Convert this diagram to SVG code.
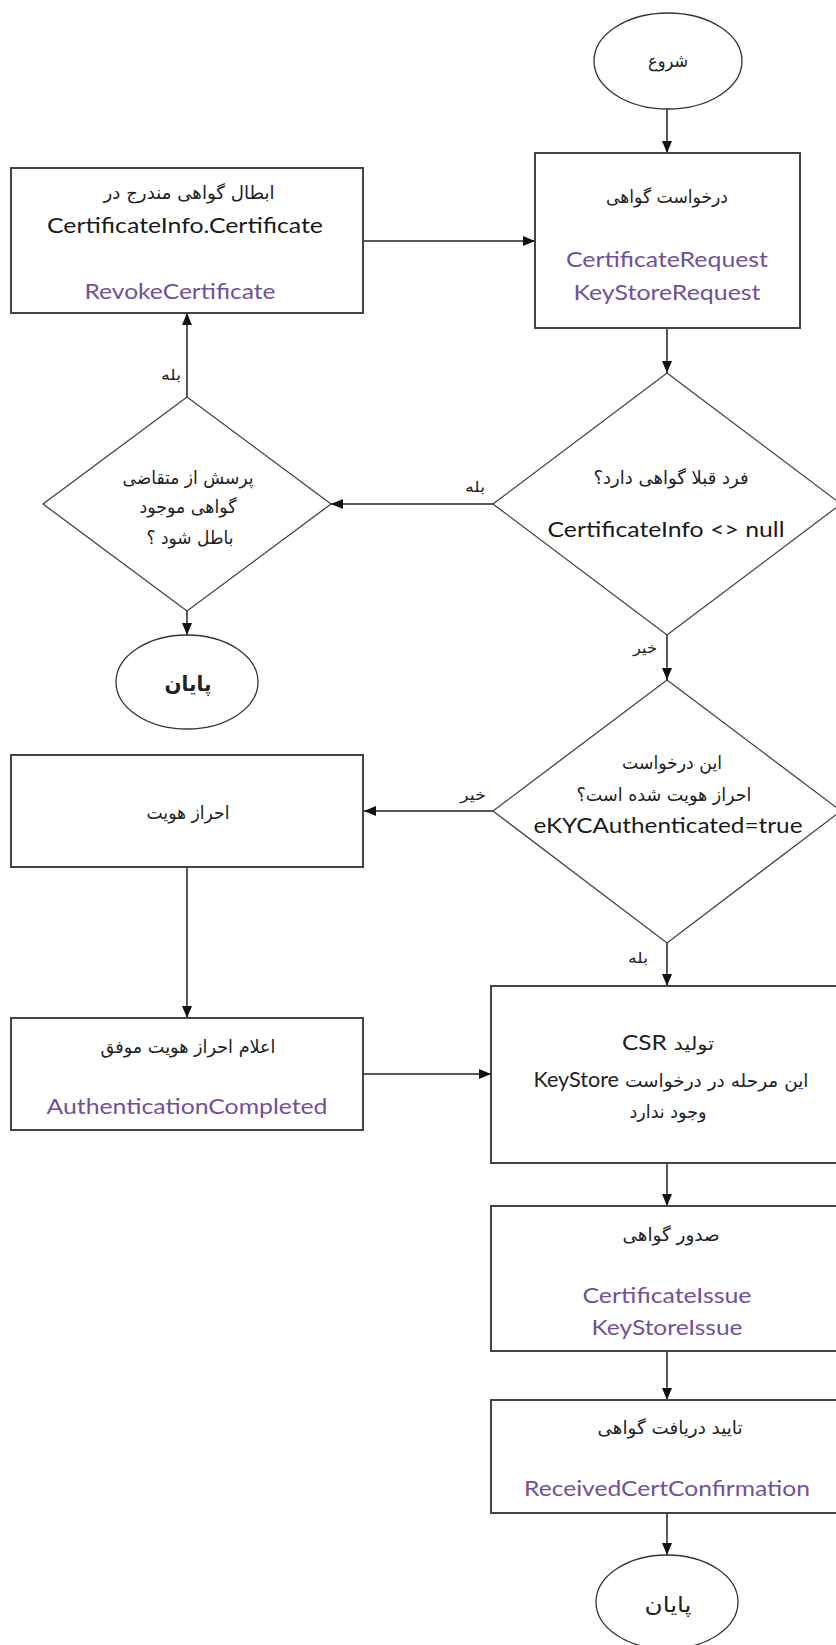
<svg xmlns="http://www.w3.org/2000/svg" width="836" height="1645" viewBox="0 0 836 1645">
<defs>
<marker id="arr" markerUnits="userSpaceOnUse" markerWidth="12" markerHeight="10" refX="12" refY="5" orient="auto">
<path d="M0,0 L12,5 L0,10 z" fill="#111"/>
</marker>
<style>
.box{fill:#fff;stroke:#444;stroke-width:2}
.dia{fill:#fff;stroke:#444;stroke-width:1.3}
.ell{fill:#fff;stroke:#333;stroke-width:1.3}
.fa{font-family:"DejaVu Sans",sans-serif;font-size:18px;fill:#222;text-anchor:middle;direction:rtl}
.lat{font-family:Lato,"DejaVu Sans",sans-serif;font-size:21px;fill:#1a1a1a;text-anchor:middle}
.pur{font-family:Lato,"DejaVu Sans",sans-serif;font-size:21px;fill:#71509c;text-anchor:middle}
.lbl{font-family:"DejaVu Sans",sans-serif;font-size:15px;fill:#222;text-anchor:middle;direction:rtl}
.con{fill:none;stroke:#222;stroke-width:1.5;marker-end:url(#arr)}
</style>
</defs>
<rect width="836" height="1645" fill="#fff"/>

<g id="connectors">
<line class="con" x1="667" y1="109" x2="667" y2="153"/>
<line class="con" x1="667" y1="328" x2="667" y2="373"/>
<line class="con" x1="493" y1="504" x2="331" y2="504"/>
<line class="con" x1="187" y1="397" x2="187" y2="313"/>
<line class="con" x1="363" y1="241" x2="535" y2="241"/>
<line class="con" x1="187" y1="611" x2="187" y2="635"/>
<line class="con" x1="667" y1="635" x2="667" y2="680"/>
<line class="con" x1="493" y1="811" x2="364" y2="811"/>
<line class="con" x1="187" y1="867" x2="187" y2="1018"/>
<line class="con" x1="363" y1="1074" x2="491" y2="1074"/>
<line class="con" x1="667" y1="943" x2="667" y2="986"/>
<line class="con" x1="667" y1="1163" x2="667" y2="1206"/>
<line class="con" x1="667" y1="1351" x2="667" y2="1400"/>
<line class="con" x1="667" y1="1513" x2="667" y2="1555"/>
<text class="lbl" x="171" y="380" textLength="20" lengthAdjust="spacingAndGlyphs">بله</text>
<text class="lbl" x="475" y="492" textLength="20" lengthAdjust="spacingAndGlyphs">بله</text>
<text class="lbl" x="645" y="653" textLength="24" lengthAdjust="spacingAndGlyphs">خیر</text>
<text class="lbl" x="473" y="800" textLength="26" lengthAdjust="spacingAndGlyphs">خیر</text>
<text class="lbl" x="638" y="963" textLength="20" lengthAdjust="spacingAndGlyphs">بله</text>
</g>

<g id="start">
<ellipse class="ell" cx="668" cy="61" rx="74" ry="48"/>
<text class="fa" x="668" y="67" textLength="40" lengthAdjust="spacingAndGlyphs">شروع</text>
</g>

<g id="request">
<rect class="box" x="535" y="153" width="265" height="175"/>
<text class="fa" x="667" y="203" textLength="122" lengthAdjust="spacingAndGlyphs">درخواست گواهی</text>
<text class="pur" x="667" y="267" textLength="202" lengthAdjust="spacingAndGlyphs">CertificateRequest</text>
<text class="pur" x="667" y="300" textLength="187" lengthAdjust="spacingAndGlyphs">KeyStoreRequest</text>
</g>

<g id="revoke">
<rect class="box" x="11" y="168" width="352" height="145"/>
<text class="fa" x="189" y="199" textLength="171" lengthAdjust="spacingAndGlyphs">ابطال گواهی مندرج در</text>
<text class="lat" x="185" y="233" textLength="276" lengthAdjust="spacingAndGlyphs">CertificateInfo.Certificate</text>
<text class="pur" x="180" y="299" textLength="191" lengthAdjust="spacingAndGlyphs">RevokeCertificate</text>
</g>

<g id="has-cert">
<polygon class="dia" points="667,373 841,504 667,635 493,504"/>
<text class="fa" x="671" y="484" textLength="155" lengthAdjust="spacingAndGlyphs">فرد قبلا گواهی دارد؟</text>
<text class="lat" x="666" y="537" textLength="237" lengthAdjust="spacingAndGlyphs">CertificateInfo &lt;&gt; null</text>
</g>

<g id="ask-revoke">
<polygon class="dia" points="187,397 331,504 187,611 43,504"/>
<text class="fa" x="188" y="484" textLength="131" lengthAdjust="spacingAndGlyphs">پرسش از متقاضی</text>
<text class="fa" x="188" y="513" textLength="97" lengthAdjust="spacingAndGlyphs">گواهی موجود</text>
<text class="fa" x="190" y="544" textLength="87" lengthAdjust="spacingAndGlyphs">باطل شود ؟</text>
</g>

<g id="end-left">
<ellipse class="ell" cx="187" cy="682" rx="71" ry="47"/>
<text class="fa" x="188" y="691" style="font-weight:bold;font-size:21px" textLength="47" lengthAdjust="spacingAndGlyphs">پایان</text>
</g>

<g id="authenticated">
<polygon class="dia" points="667,680 841,811 667,943 493,811"/>
<text class="fa" x="672" y="769" textLength="100" lengthAdjust="spacingAndGlyphs">این درخواست</text>
<text class="fa" x="664" y="801" textLength="175" lengthAdjust="spacingAndGlyphs">احراز هویت شده است؟</text>
<text class="lat" x="668" y="833" textLength="269" lengthAdjust="spacingAndGlyphs">eKYCAuthenticated=true</text>
</g>

<g id="auth">
<rect class="box" x="11" y="755" width="352" height="112"/>
<text class="fa" x="188" y="819" textLength="83" lengthAdjust="spacingAndGlyphs">احراز هویت</text>
</g>

<g id="auth-done">
<rect class="box" x="11" y="1018" width="352" height="112"/>
<text class="fa" x="188" y="1053" textLength="175" lengthAdjust="spacingAndGlyphs">اعلام احراز هویت موفق</text>
<text class="pur" x="187" y="1114" textLength="281" lengthAdjust="spacingAndGlyphs">AuthenticationCompleted</text>
</g>

<g id="csr">
<rect class="box" x="491" y="986" width="352" height="177"/>
<text class="fa" x="668" y="1050" textLength="92" lengthAdjust="spacingAndGlyphs">تولید  <tspan style="font-family:Lato,sans-serif;font-size:21px">CSR</tspan></text>
<text class="fa" x="671" y="1087" textLength="275" lengthAdjust="spacingAndGlyphs">این مرحله در درخواست <tspan style="font-family:Lato,sans-serif;font-size:21px">KeyStore</tspan></text>
<text class="fa" x="668" y="1118" textLength="77" lengthAdjust="spacingAndGlyphs">وجود ندارد</text>
</g>

<g id="issue">
<rect class="box" x="491" y="1206" width="352" height="145"/>
<text class="fa" x="671" y="1241" textLength="97" lengthAdjust="spacingAndGlyphs">صدور گواهی</text>
<text class="pur" x="667" y="1303" textLength="169" lengthAdjust="spacingAndGlyphs">CertificateIssue</text>
<text class="pur" x="667" y="1335" textLength="151" lengthAdjust="spacingAndGlyphs">KeyStoreIssue</text>
</g>

<g id="confirm">
<rect class="box" x="491" y="1400" width="352" height="113"/>
<text class="fa" x="670" y="1434" textLength="145" lengthAdjust="spacingAndGlyphs">تایید دریافت گواهی</text>
<text class="pur" x="667" y="1496" textLength="286" lengthAdjust="spacingAndGlyphs">ReceivedCertConfirmation</text>
</g>

<g id="end-bottom">
<ellipse class="ell" cx="667" cy="1602" rx="71" ry="47"/>
<text class="fa" x="668" y="1612" style="font-size:21px" textLength="47" lengthAdjust="spacingAndGlyphs">پایان</text>
</g>
</svg>
